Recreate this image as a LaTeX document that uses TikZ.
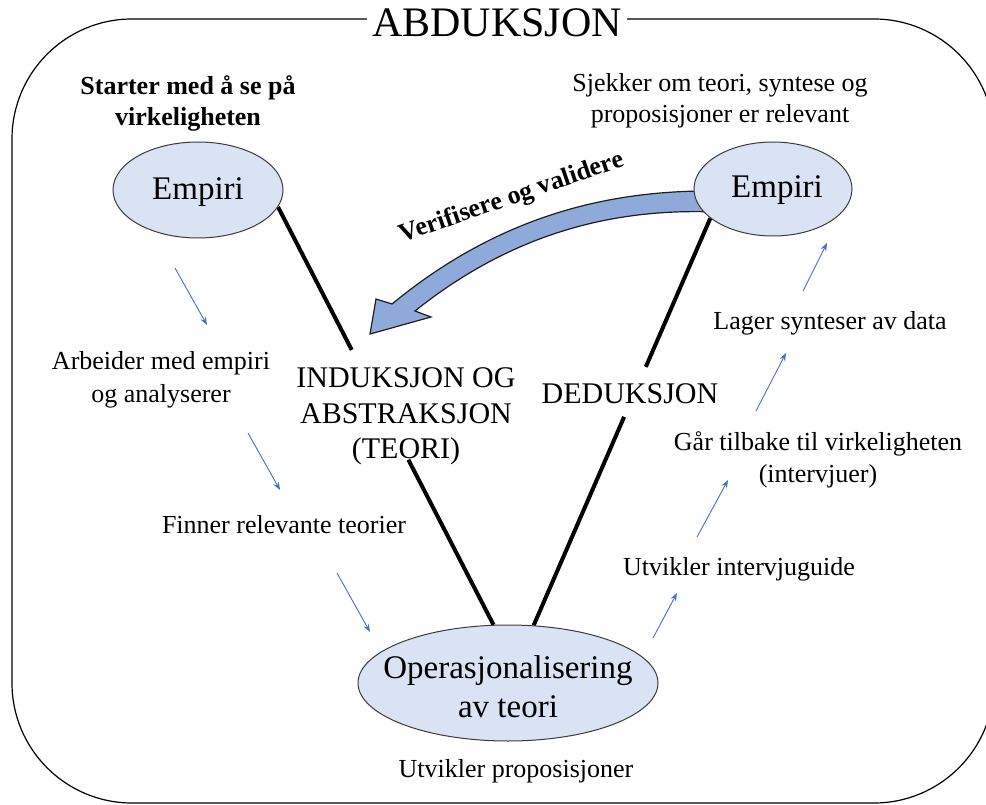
\documentclass[tikz,border=0pt]{standalone}
\usepackage{fontspec}
\setmainfont{Liberation Serif}
\usetikzlibrary{shapes.geometric,arrows.meta,calc,backgrounds}

\definecolor{bubblefill}{HTML}{DAE3F3}
\definecolor{bubbleline}{HTML}{3C3C3C}
\definecolor{bigarrowfill}{HTML}{8EAADB}
\definecolor{bigarrowline}{HTML}{1E1E1E}
\definecolor{hintblue}{HTML}{4472C4}

\tikzset{
  bubble/.style={ellipse, fill=bubblefill, draw=bubbleline, line width=1pt, inner sep=0pt},
  bodytext/.style={font=\fontsize{26}{31}\selectfont, anchor=base, inner sep=0pt},
  boldtext/.style={font=\bfseries\fontsize{26}{31}\selectfont, anchor=base, inner sep=0pt},
  phasetext/.style={font=\fontsize{30}{35}\selectfont, anchor=base, inner sep=0pt},
  bubbletext/.style={font=\fontsize{33}{37}\selectfont, anchor=base, inner sep=0pt},
  link/.style={line width=4pt, line cap=butt},
  hint/.style={hintblue, line width=0.9pt, -{Stealth[length=8pt,width=6pt]}},
  loopback/.style={fill=bigarrowfill, draw=bigarrowline, line width=1.2pt, line join=miter},
}

\begin{document}
\begin{tikzpicture}[x=1pt,y=-1pt]
\useasboundingbox (0,0) rectangle (986,805);

% outer frame
\begin{scope}
  \clip (0,0) rectangle (986,805);
  \draw[line width=1.2pt, rounded corners=120pt] (12,19) rectangle (994,803);
\end{scope}
\node[fill=white, inner xsep=5pt, inner ysep=3pt, anchor=base,
      font=\fontsize{42}{42}\selectfont] (title) at (497,37) {ABDUKSJON};

% the three bubbles
\node[bubble, minimum width=170pt, minimum height=96pt] (emL) at (198,190) {};
\node[bubble, minimum width=158pt, minimum height=94pt] (emR) at (773,189) {};
\node[bubble, minimum width=300pt, minimum height=116pt] (op) at (508,683) {};

\node[bubbletext] (emLtext) at (198,200) {Empiri};
\node[bubbletext] (emRtext) at (777,198) {Empiri};
\node[bubbletext] (opA) at (508,678) {Operasjonalisering};
\node[bubbletext] (opB) at (508,717) {av teori};

% V-shaped links, broken where the labels sit
\coordinate (lA) at ($(emL.-12)!0.342!(op.104.5)$);
\coordinate (lB) at ($(emL.-12)!0.605!(op.104.5)$);
\coordinate (rA) at ($(emR.205)!0.365!(op.66.7)$);
\coordinate (rB) at ($(emR.205)!0.488!(op.66.7)$);

\begin{pgfonlayer}{background}
  \draw[link] (emL.-12) -- (lA);
  \draw[link] (lB) -- (op.104.5);
  \draw[link] (emR.205) -- (rA);
  \draw[link] (rB) -- (op.66.7);
  % curved feedback arrow
  \draw[loopback] (715,191) .. controls (610,190) and (500,215) .. (392,304)
     -- (376,299) -- (370,334) -- (431,317) -- (415,311)
     .. controls (510,235) and (610,208) .. (715,212) -- cycle;
\end{pgfonlayer}

\node[boldtext, rotate=19] (verify) at (514,204) {Verifisere og validere};

% labels
\node[boldtext] (startA) at (188,95) {Starter med å se på};
\node[boldtext] (startB) at (188,126) {virkeligheten};
\node[bodytext] (checkA) at (720,92) {Sjekker om teori, syntese og};
\node[bodytext] (checkB) at (720,123) {proposisjoner er relevant};

\node[bodytext] (workA) at (161,370) {Arbeider med empiri};
\node[bodytext] (workB) at (161,402) {og analyserer};
\node[bodytext] (findT) at (284,533) {Finner relevante teorier};
\node[bodytext] (props) at (516,777) {Utvikler proposisjoner};

\node[phasetext] (indA) at (406,387) {INDUKSJON OG};
\node[phasetext] (indB) at (406,423) {ABSTRAKSJON};
\node[phasetext] (indC) at (406,458) {(TEORI)};
\node[phasetext] (ded) at (630,403) {DEDUKSJON};

\node[bodytext] (guide) at (739,575) {Utvikler intervjuguide};
\node[bodytext] (backA) at (818,450) {Går tilbake til virkeligheten};
\node[bodytext] (backB) at (818,482) {(intervjuer)};
\node[bodytext] (synth) at (830,330) {Lager synteser av data};

% small step arrows
\coordinate (h1s) at (175,268); \coordinate (h1e) at (207,325);
\coordinate (h2s) at (248,433); \coordinate (h2e) at (280,490);
\coordinate (h3s) at (337,573); \coordinate (h3e) at (370,632);
\coordinate (h4s) at (653,638); \coordinate (h4e) at (677,593);
\coordinate (h5s) at (697,537); \coordinate (h5e) at (728,480);
\coordinate (h6s) at (756,411); \coordinate (h6e) at (786,353);
\coordinate (h7s) at (803,291); \coordinate (h7e) at (827,243);
\draw[hint] (h1s) -- (h1e);
\draw[hint] (h2s) -- (h2e);
\draw[hint] (h3s) -- (h3e);
\draw[hint] (h4s) -- (h4e);
\draw[hint] (h5s) -- (h5e);
\draw[hint] (h6s) -- (h6e);
\draw[hint] (h7s) -- (h7e);
\end{tikzpicture}
\end{document}
